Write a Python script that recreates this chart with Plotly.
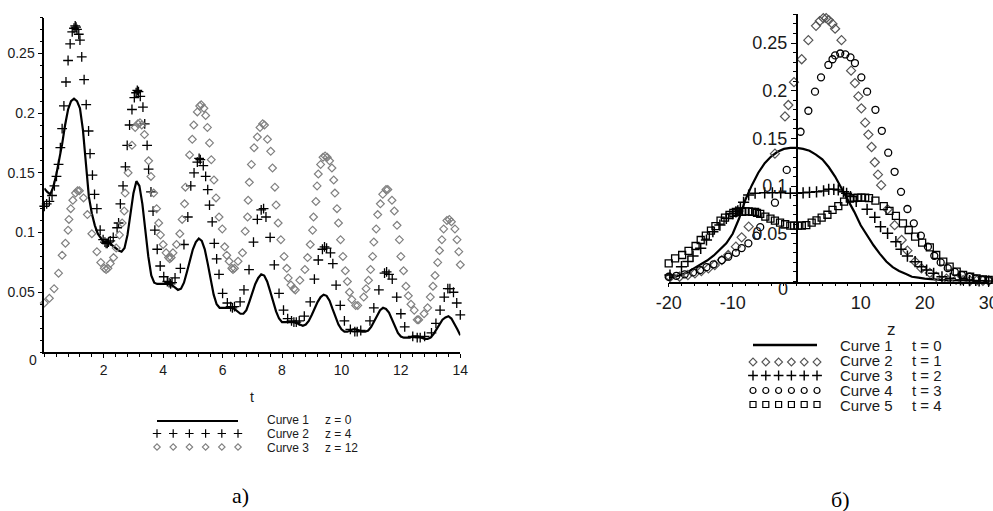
import plotly.graph_objects as go

W, H = 993, 511

# ---------------- panel a): concentration versus t at three depths ----------------
t_line = [0.0, 0.1, 0.2, 0.3, 0.4, 0.5, 0.6, 0.7, 0.8, 0.9,
          1.0, 1.1, 1.2, 1.3, 1.4, 1.5, 1.6, 1.7, 1.8, 1.9,
          2.0, 2.1, 2.2, 2.3, 2.4, 2.5, 2.6, 2.7, 2.8, 2.9,
          3.0, 3.1, 3.2, 3.3, 3.4, 3.5, 3.6, 3.7, 3.8, 3.9,
          4.0, 4.1, 4.2, 4.3, 4.4, 4.5, 4.6, 4.7, 4.8, 4.9,
          5.0, 5.1, 5.2, 5.3, 5.4, 5.5, 5.6, 5.7, 5.8, 5.9,
          6.0, 6.1, 6.2, 6.3, 6.4, 6.5, 6.6, 6.7, 6.8, 6.9,
          7.0, 7.1, 7.2, 7.3, 7.4, 7.5, 7.6, 7.7, 7.8, 7.9,
          8.0, 8.1, 8.2, 8.3, 8.4, 8.5, 8.6, 8.7, 8.8, 8.9,
          9.0, 9.1, 9.2, 9.3, 9.4, 9.5, 9.6, 9.7, 9.8, 9.9,
          10.0, 10.1, 10.2, 10.3, 10.4, 10.5, 10.6, 10.7, 10.8, 10.9,
          11.0, 11.1, 11.2, 11.3, 11.4, 11.5, 11.6, 11.7, 11.8, 11.9,
          12.0, 12.1, 12.2, 12.3, 12.4, 12.5, 12.6, 12.7, 12.8, 12.9,
          13.0, 13.1, 13.2, 13.3, 13.4, 13.5, 13.6, 13.7, 13.8, 13.9,
          14.0]
z0_line = [.137, .134, .132, .138, .148, .160, .174, .190, .203, .210,
           .212, .210, .204, .186, .156, .130, .116, .106, .099, .095,
           .092, .092, .091, .089, .087, .085, .084, .087, .098, .116,
           .133, .143, .139, .124, .102, .080, .064, .058, .057, .057,
           .057, .057, .057, .056, .054, .052, .053, .058, .067, .077,
           .086, .092, .095, .093, .086, .074, .060, .048, .040, .037,
           .037, .037, .037, .037, .036, .034, .032, .032, .035, .042,
           .050, .057, .062, .065, .064, .059, .051, .042, .034, .028,
           .025, .025, .025, .025, .025, .024, .023, .022, .023, .026,
           .031, .037, .042, .046, .048, .047, .043, .036, .029, .023,
           .019, .017, .017, .018, .019, .019, .018, .017, .017, .018,
           .021, .026, .031, .035, .037, .036, .033, .027, .021, .016,
           .013, .012, .012, .012, .013, .013, .013, .012, .011, .011,
           .012, .015, .019, .024, .027, .029, .030, .028, .024, .019,
           .014]

t_z4 = [0.00, 0.08, 0.17, 0.26, 0.34, 0.41, 0.48, 0.54, 0.60, 0.66,
        0.73, 0.80, 0.87, 0.94, 1.00, 1.04, 1.07, 1.10, 1.16, 1.20,
        1.26, 1.34, 1.41, 1.49, 1.54, 1.62, 1.69, 1.77, 1.88, 1.98,
        2.04, 2.08, 2.12, 2.16, 2.22, 2.32, 2.45, 2.50, 2.56, 2.65,
        2.73, 2.79, 2.87, 2.95, 3.03, 3.09, 3.13, 3.17, 3.23, 3.32,
        3.38, 3.46, 3.51, 3.59, 3.66, 3.72, 3.80, 3.90, 4.02, 4.14,
        4.20, 4.25, 4.30, 4.40, 4.58, 4.70, 4.83, 4.93, 5.04, 5.15,
        5.21, 5.25, 5.35, 5.43, 5.50, 5.56, 5.65, 5.72, 5.80, 5.88,
        6.00, 6.16, 6.27, 6.33, 6.40, 6.59, 6.72, 6.89, 7.04, 7.17,
        7.30, 7.38, 7.46, 7.60, 7.74, 7.90, 8.05, 8.19, 8.32, 8.40,
        8.48, 8.58, 8.75, 8.95, 9.09, 9.22, 9.36, 9.43, 9.50, 9.63,
        9.71, 9.82, 9.96, 10.10, 10.30, 10.45, 10.53, 10.65, 10.96, 11.09,
        11.26, 11.45, 11.52, 11.60, 11.71, 11.86, 12.00, 12.13, 12.40, 12.55,
        12.65, 12.80, 13.03, 13.18, 13.32, 13.46, 13.58, 13.65, 13.77, 13.88,
        14.00]
z4_vals = [.122, .124, .126, .131, .139, .147, .157, .171, .187, .206,
           .226, .244, .258, .268, .271, .273, .272, .270, .266, .261,
           .247, .228, .207, .185, .166, .148, .132, .120, .102, .094,
           .092, .091, .091, .092, .093, .096, .104, .108, .124, .139,
           .155, .173, .190, .203, .213, .217, .219, .218, .214, .205,
           .191, .173, .153, .134, .118, .102, .086, .072, .063, .059,
           .058, .057, .058, .062, .070, .090, .113, .139, .150, .159,
           .162, .161, .156, .147, .136, .123, .109, .091, .078, .065,
           .049, .041, .038, .037, .038, .042, .052, .069, .092, .111,
           .119, .120, .113, .096, .073, .049, .035, .028, .026, .025,
           .025, .026, .030, .042, .061, .077, .086, .088, .087, .083,
           .074, .056, .039, .026, .019, .017, .017, .018, .026, .037,
           .052, .066, .067, .065, .061, .046, .032, .021, .013, .012,
           .012, .013, .016, .024, .035, .046, .053, .053, .050, .041,
           .031]

t_z12 = [0.00, 0.17, 0.33, 0.48, 0.60, 0.71, 0.80, 0.83, 0.89, 0.96,
         1.05, 1.12, 1.18, 1.32, 1.45, 1.60, 1.77, 1.90, 2.02, 2.08,
         2.14, 2.22, 2.33, 2.42, 2.53, 2.62, 2.69, 2.72, 2.82, 2.95,
         3.06, 3.15, 3.22, 3.28, 3.37, 3.51, 3.59, 3.68, 3.78, 3.85,
         3.91, 4.00, 4.10, 4.18, 4.22, 4.27, 4.33, 4.45, 4.56, 4.64,
         4.72, 4.75, 4.89, 4.98, 5.03, 5.15, 5.23, 5.28, 5.37, 5.43,
         5.49, 5.56, 5.62, 5.71, 5.78, 5.88, 5.99, 6.07, 6.14, 6.22,
         6.31, 6.35, 6.40, 6.52, 6.67, 6.76, 6.84, 6.86, 6.90, 6.97,
         7.06, 7.17, 7.26, 7.35, 7.41, 7.51, 7.62, 7.68, 7.76, 7.80,
         7.87, 7.96, 8.07, 8.16, 8.21, 8.30, 8.40, 8.45, 8.60, 8.77,
         8.86, 8.95, 9.03, 9.06, 9.14, 9.18, 9.22, 9.30, 9.38, 9.45,
         9.52, 9.60, 9.68, 9.74, 9.78, 9.85, 9.90, 9.97, 10.05, 10.13,
         10.20, 10.27, 10.35, 10.48, 10.55, 10.75, 10.83, 10.91, 10.98, 11.05,
         11.09, 11.17, 11.22, 11.31, 11.39, 11.50, 11.56, 11.70, 11.78, 11.87,
         11.95, 12.00, 12.09, 12.17, 12.25, 12.34, 12.45, 12.55, 12.60, 12.78,
         12.90, 12.99, 13.08, 13.15, 13.24, 13.30, 13.38, 13.44, 13.55, 13.63,
         13.70, 13.82, 13.89, 13.95, 14.00]
z12_vals = [.041, .045, .053, .066, .081, .091, .102, .111, .120, .127,
            .133, .135, .135, .129, .115, .099, .084, .075, .070, .069,
            .070, .074, .079, .087, .098, .108, .118, .133, .150, .173,
            .188, .191, .192, .190, .182, .160, .147, .133, .120, .108,
            .098, .090, .083, .079, .078, .079, .083, .090, .099, .111,
            .124, .138, .165, .178, .190, .201, .206, .207, .204, .198,
            .188, .175, .161, .144, .129, .113, .103, .088, .081, .076,
            .070, .069, .070, .076, .083, .101, .113, .127, .142, .157,
            .171, .180, .188, .191, .190, .178, .168, .154, .138, .123,
            .108, .094, .080, .070, .062, .056, .053, .052, .060, .069,
            .079, .090, .102, .113, .126, .139, .149, .157, .163, .164,
            .163, .160, .154, .144, .133, .120, .108, .094, .080, .068,
            .059, .050, .044, .039, .039, .046, .053, .060, .069, .080,
            .092, .103, .115, .124, .132, .136, .136, .127, .118, .106,
            .094, .080, .068, .055, .047, .040, .035, .027, .027, .032,
            .037, .046, .055, .064, .075, .085, .094, .103, .110, .111,
            .109, .103, .094, .084, .073]

# ---------------- panel b): profiles versus z at five times ----------------
z_t0 = [-20, -19, -18, -17, -16, -15, -14, -13, -12, -11,
        -10, -9, -8, -7, -6, -5, -4, -3, -2, -1,
        0, 1, 2, 3, 4, 5, 6, 7, 8, 9,
        10, 11, 12, 13, 14, 15, 16, 17, 18, 19,
        20, 22, 24, 26, 28, 30]
t0_vals = [.004, .005, .007, .010, .014, .018, .022, .027, .033, .040,
           .050, .066, .086, .101, .114, .124, .131, .136, .139, .140,
           .140, .139, .137, .133, .128, .120, .110, .098, .086, .073,
           .059, .048, .038, .029, .021, .015, .011, .008, .005, .004,
           .003, .002, .001, .001, .0005, .0003]

z_t1 = [-19.8, -18.3, -17.0, -15.9, -14.9, -13.8, -12.8, -11.7, -10.7, -9.5,
        -8.6, -7.5, -3.4, -1.83, -1.31, -0.42, 0.78, 1.82, 3.02, 3.6,
        4.16, 4.6, 5.0, 5.6, 6.0, 7.0, 8.5, 9.1, 9.64, 10.1,
        10.7, 11.2, 11.7, 12.2, 12.7, 13.2, 14.2, 15.3, 16.4, 17.3,
        18.5, 19.5, 20.8, 21.8, 23.4, 24.9, 26.0, 27.1, 28.1, 29.1, 30.0]
t1_vals = [.0045, .005, .0068, .0086, .011, .0138, .0173, .0225, .0278, .0365,
           .0463, .0575, .134, .173, .185, .209, .233, .253, .268, .273,
           .276, .276, .274, .270, .265, .253, .221, .208, .194, .1815,
           .1665, .154, .141, .125, .112, .101, .0757, .059, .0435, .0323,
           .0208, .0138, .009, .005, .003, .002, .0015, .001, .001, .0008, .0006]

z_t2 = [-19.8, -18.0, -17.0, -16.2, -15.0, -14.1, -13.1, -12.0, -11.0, -10.0,
        -9.5, -9.2, -8.8, -8.3, -7.5, -6.5, -5.0, -3.8, -2.5, -1.0,
        0.0, 1.0, 2.0, 3.1, 4.2, 5.0, 5.8, 6.5, 7.3, 7.8,
        8.4, 9.3, 11.0, 12.2, 13.1, 14.2, 15.5, 16.3, 17.3, 18.5,
        19.5, 20.3, 21.4, 22.7, 24.0, 25.6, 27.0, 28.5, 30.0]
t2_vals = [.0068, .0155, .021, .0267, .0348, .0435, .0522, .0592, .0662, .071,
           .073, .074, .077, .083, .0907, .0925, .093, .093, .093, .0925,
           .0925, .093, .0935, .094, .095, .0966, .0966, .096, .094, .0925,
           .089, .084, .0757, .0673, .0575, .0505, .0417, .0337, .0267, .0208,
           .0155, .012, .0086, .005, .0033, .0016, .001, .0007, .0005]

z_t3 = [-20.0, -18.8, -17.5, -16.2, -15.1, -14.1, -13.0, -11.7, -10.7, -9.5,
        -8.6, -7.55, -6.3, -5.7, -3.4, -1.56, 0.6, 1.82, 2.86, 3.8,
        4.95, 5.6, 6.0, 6.8, 7.6, 8.4, 9.1, 10.1, 11.0, 12.3,
        13.3, 14.3, 15.3, 16.3, 17.3, 18.3, 19.4, 20.5, 21.5, 22.5,
        23.6, 24.7, 25.8, 27.0, 28.0, 29.0, 30.0]
t3_vals = [.005, .006, .0075, .0095, .012, .015, .018, .0225, .026, .030,
           .035, .040, .048, .057, .0826, .117, .157, .179, .199, .214,
           .227, .233, .237, .239, .238, .235, .229, .214, .199, .180,
           .158, .135, .115, .094, .076, .061, .048, .0365, .027, .020,
           .014, .010, .007, .005, .003, .002, .0015]

z_t4 = [-20.0, -19.0, -17.9, -16.9, -15.8, -15.0, -14.2, -13.4, -12.7, -11.9,
        -11.2, -10.5, -9.9, -9.5, -9.0, -8.5, -8.0, -7.5, -7.0, -6.5,
        -6.2, -5.7, -4.9, -4.1, -3.4, -2.6, -1.8, -1.0, -0.4, 0.2,
        0.8, 1.5, 2.34, 3.1, 3.9, 4.8, 5.6, 6.5, 7.4, 8.3,
        8.9, 9.5, 10.1, 10.7, 11.3, 12.3, 13.6, 14.5, 15.5, 16.6,
        17.5, 18.5, 19.6, 20.8, 21.8, 22.9, 23.9, 25.0, 26.0, 27.1,
        28.1, 29.1, 30.0]
t4_vals = [.019, .0243, .0278, .032, .0372, .0435, .048, .0533, .058, .0638,
           .067, .0697, .072, .073, .073, .073, .0735, .0735, .073, .073,
           .072, .0708, .068, .066, .0638, .0617, .060, .0585, .0585, .0585,
           .0585, .059, .0617, .064, .067, .070, .075, .079, .0837, .087,
           .0875, .088, .088, .088, .0875, .0847, .079, .074, .0687, .061,
           .054, .047, .0407, .0358, .0278, .0208, .0155, .0103, .0068, .005,
           .0033, .0023, .0016]

y_ticks = [0.05, 0.1, 0.15, 0.2, 0.25]
y_ticktext = ["0.05", "0.1", "0.15", "0.2", "0.25"]
a_xticks = [2, 4, 6, 8, 10, 12, 14]
b_xticks = [-20, -10, 10, 20, 30]
b_xticktext = ["-20", "-10", "10", "20", "30"]

legend_a = [("Curve 1", "z = 0"), ("Curve 2", "z = 4"), ("Curve 3", "z = 12")]
legend_b = [("Curve 1", "t = 0"), ("Curve 2", "t = 1"), ("Curve 3", "t = 2"),
            ("Curve 4", "t = 3"), ("Curve 5", "t = 4")]

SANS = "Liberation Sans, Arial, sans-serif"
SERIF = "Liberation Serif, Times New Roman, serif"
INK = "#1a1a1a"
GREY = "#808080"
DARKGREY = "#555555"


def px(x):
    return x / W


def py(y):
    return 1 - y / H


fig = go.Figure()

# panel a) traces
fig.add_trace(go.Scatter(x=t_line, y=z0_line, mode="lines", xaxis="x", yaxis="y",
                         line=dict(color="black", width=2.2), showlegend=False))
fig.add_trace(go.Scatter(x=t_z4, y=z4_vals, mode="markers", xaxis="x", yaxis="y",
                         cliponaxis=False, showlegend=False,
                         marker=dict(symbol="cross-thin-open", size=7, color="black",
                                     line=dict(color="black", width=1.3))))
fig.add_trace(go.Scatter(x=t_z12, y=z12_vals, mode="markers", xaxis="x", yaxis="y",
                         cliponaxis=False, showlegend=False,
                         marker=dict(symbol="diamond-open", size=6, color=GREY,
                                     line=dict(color=GREY, width=1.2))))

# panel b) traces
fig.add_trace(go.Scatter(x=z_t0, y=t0_vals, mode="lines", xaxis="x2", yaxis="y2",
                         line=dict(color="black", width=2.2), showlegend=False))
fig.add_trace(go.Scatter(x=z_t1, y=t1_vals, mode="markers", xaxis="x2", yaxis="y2",
                         cliponaxis=False, showlegend=False,
                         marker=dict(symbol="diamond-open", size=7, color=DARKGREY,
                                     line=dict(color=DARKGREY, width=1.2))))
fig.add_trace(go.Scatter(x=z_t2, y=t2_vals, mode="markers", xaxis="x2", yaxis="y2",
                         cliponaxis=False, showlegend=False,
                         marker=dict(symbol="cross-thin-open", size=8, color="black",
                                     line=dict(color="black", width=1.5))))
fig.add_trace(go.Scatter(x=z_t3, y=t3_vals, mode="markers", xaxis="x2", yaxis="y2",
                         cliponaxis=False, showlegend=False,
                         marker=dict(symbol="circle-open", size=7, color="black",
                                     line=dict(color="black", width=1.3))))
fig.add_trace(go.Scatter(x=z_t4, y=t4_vals, mode="markers", xaxis="x2", yaxis="y2",
                         cliponaxis=False, showlegend=False,
                         marker=dict(symbol="square-open", size=7, color="black",
                                     line=dict(color="black", width=1.3))))

# hand-drawn legend keys on a pixel-space overlay
shapes = []
annotations = []


def key_row(x0, x1, y, n, symbol, size, color, lw):
    xs = [x0 + (x1 - x0) * i / (n - 1) for i in range(n)]
    fig.add_trace(go.Scatter(x=xs, y=[y] * n, mode="markers", xaxis="x3", yaxis="y3",
                             cliponaxis=False, showlegend=False, hoverinfo="skip",
                             marker=dict(symbol=symbol, size=size, color=color,
                                         line=dict(color=color, width=lw))))


def label(text, x, y, size, family=SANS, anchor="left", color=INK):
    annotations.append(dict(text=text, x=px(x), y=py(y), xref="paper", yref="paper",
                            xanchor=anchor, yanchor="middle", showarrow=False,
                            font=dict(family=family, size=size, color=color)))


# legend of panel a)
shapes.append(dict(type="line", xref="paper", yref="paper", x0=px(157), x1=px(238),
                   y0=py(421), y1=py(421), line=dict(color="black", width=2.2)))
key_row(157, 238, 433.5, 6, "cross-thin-open", 6, "black", 1.2)
key_row(157, 238, 447, 6, "diamond-open", 5, GREY, 1.1)
for i, (name, val) in enumerate(legend_a):
    yy = 420 + 13.8 * i
    label(name, 265, yy, 12)
    label(val, 323, yy, 12)

# legend of panel b)
shapes.append(dict(type="line", xref="paper", yref="paper", x0=px(753), x1=px(817),
                   y0=py(345), y1=py(345), line=dict(color="black", width=2.5)))
key_row(753, 817, 362, 6, "diamond-open", 6, DARKGREY, 1.1)
key_row(753, 817, 375.5, 6, "cross-thin-open", 7, "black", 1.4)
key_row(753, 817, 390.5, 6, "circle-open", 6, "black", 1.2)
key_row(753, 817, 404.5, 6, "square-open", 6, "black", 1.2)
for i, (name, val) in enumerate(legend_b):
    yy = 345 + 15 * i
    label(name, 838, yy, 15)
    label(val, 910, yy, 15)

# axis titles, origin labels and panel captions
label("t", 252, 397, 14, anchor="center")
label("z", 891, 329, 17, anchor="center")
label("0", 33, 360, 14, anchor="center")
label("0", 783, 289, 18, anchor="center")
label("a)", 240, 495, 22, family=SERIF, anchor="center", color="black")
label("б)", 840, 499, 22, family=SERIF, anchor="center", color="black")

axis_common = dict(showgrid=False, zeroline=False, showline=True, linecolor="black",
                   linewidth=1.6, ticks="outside", tickcolor="black", tickwidth=1.2,
                   ticklen=5, fixedrange=True, automargin=False,
                   ticklabeloverflow="allow")

fig.update_layout(
    width=W, height=H, margin=dict(l=0, r=0, t=0, b=0, autoexpand=False),
    paper_bgcolor="white", plot_bgcolor="rgba(0,0,0,0)",
    showlegend=False,
    xaxis=dict(axis_common, domain=[px(44.3), px(460.3)], range=[0, 14], anchor="y",
               tickmode="array", tickvals=a_xticks, ticklen=4,
               tickfont=dict(family=SANS, size=14, color=INK),
               minor=dict(tickmode="linear", tick0=0, dtick=0.4, ticks="outside",
                          ticklen=3, tickcolor="black", tickwidth=1)),
    yaxis=dict(axis_common, domain=[py(352), py(17.5)], range=[0, 0.28], anchor="x",
               tickmode="array", tickvals=y_ticks, ticktext=y_ticktext,
               tickfont=dict(family=SANS, size=14, color=INK),
               minor=dict(tickmode="linear", tick0=0, dtick=0.01, ticks="outside",
                          ticklen=3, tickcolor="black", tickwidth=1)),
    xaxis2=dict(axis_common, domain=[px(668.7), px(988.7)], range=[-20, 30], anchor="y2",
                tickmode="array", tickvals=b_xticks, ticktext=b_xticktext, ticklen=4,
                tickfont=dict(family=SANS, size=18, color=INK),
                minor=dict(tickmode="linear", tick0=0, dtick=2, ticks="outside",
                           ticklen=3, tickcolor="black", tickwidth=1)),
    yaxis2=dict(axis_common, domain=[py(281.5), py(14.4)], range=[0, 0.28],
                anchor="free", position=px(796.7),
                tickmode="array", tickvals=y_ticks, ticktext=y_ticktext,
                tickfont=dict(family=SANS, size=18, color=INK),
                minor=dict(tickmode="linear", tick0=0, dtick=0.01, ticks="outside",
                           ticklen=3, tickcolor="black", tickwidth=1)),
    xaxis3=dict(domain=[0, 1], range=[0, W], visible=False, anchor="y3",
                fixedrange=True, automargin=False),
    yaxis3=dict(domain=[0, 1], range=[H, 0], visible=False, anchor="x3",
                fixedrange=True, automargin=False),
    shapes=shapes,
    annotations=annotations,
)

fig.write_html("out.html")
